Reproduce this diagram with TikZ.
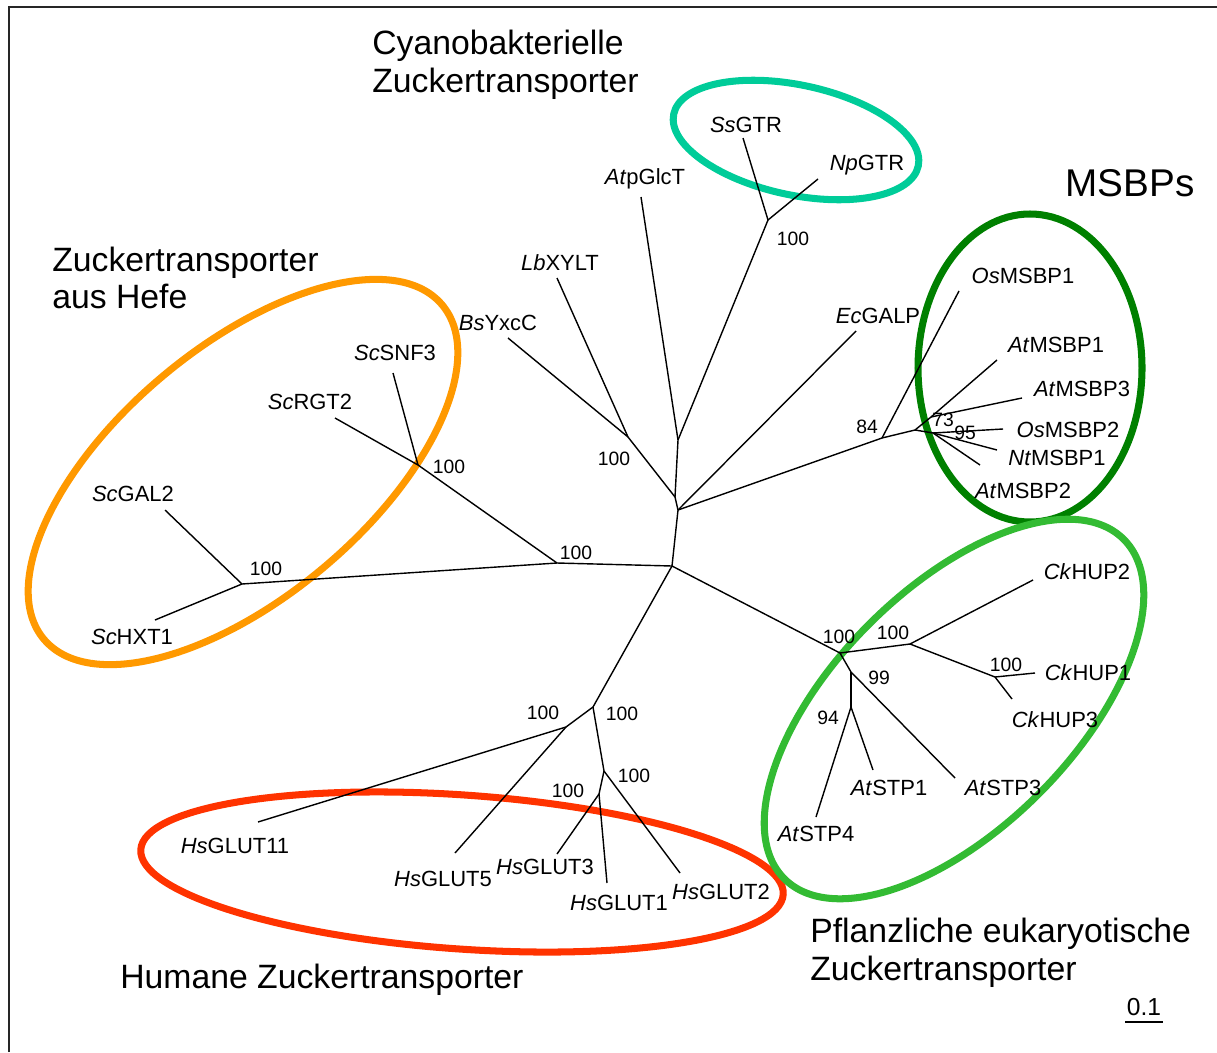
\documentclass[tikz,border=0pt]{standalone}
\usepackage{fontspec}
\setmainfont{Liberation Sans}
\usepackage{tikz}
\definecolor{cyanoring}{RGB}{0,204,153}
\definecolor{msbpring}{RGB}{0,128,0}
\definecolor{yeastring}{RGB}{255,153,0}
\definecolor{humanring}{RGB}{255,51,0}
\definecolor{plantring}{RGB}{51,187,51}

\begin{document}
\begin{tikzpicture}[x=0.2mm,y=-0.2mm,
  branch/.style={line width=0.8pt},
  leaf/.style={inner sep=0pt,font=\fontsize{12.5}{15}\selectfont},
  boot/.style={inner sep=0pt,font=\fontsize{11}{13}\selectfont},
  grp/.style={inner sep=0pt,anchor=west,align=left,font=\fontsize{19.2}{21.5}\selectfont},
  ring/.style={line width=4pt}]
\useasboundingbox (0,0) rectangle (1217,1052);
\draw[line width=1.1pt,black!85] (9,1052) -- (9,7) -- (1217,7);

% group rings
\draw[ring,cyanoring,shift={(796,140)},rotate=-12] (0,0) ellipse (125 and 55);
\draw[ring,msbpring] (1030,368) ellipse (112 and 154);
\draw[ring,yeastring,shift={(243,472)},rotate=40] (0,0) ellipse (260 and 125);
\draw[ring,humanring,shift={(462,872)},rotate=-4] (0,0) ellipse (322 and 77);
\draw[ring,plantring,shift={(954,709)},rotate=45] (0,0) ellipse (240 and 120);

% inner branch points
\coordinate (r0) at (672,566);
\coordinate (r1) at (678,510);
\coordinate (r2) at (675,497);
\coordinate (r3) at (628,437);
\coordinate (r4) at (678,440);
\coordinate (cy) at (768,220);
\coordinate (m84) at (882,438);
\coordinate (m0) at (915,430);
\coordinate (m73) at (931,417);
\coordinate (m95) at (933,433);
\coordinate (ye) at (557,563);
\coordinate (y1) at (418,465);
\coordinate (y2) at (242,584);
\coordinate (h0) at (593,707);
\coordinate (h1) at (566,727);
\coordinate (h2) at (604,771);
\coordinate (h3) at (599,794);
\coordinate (p0) at (840,653);
\coordinate (p1) at (910,644);
\coordinate (p2) at (995,677);
\coordinate (p3) at (851,672);
\coordinate (p4) at (851,707);

% leaf tips
\coordinate (ssgtr-t) at (743,138);
\coordinate (npgtr-t) at (818,179);
\coordinate (atpglct-t) at (641,197);
\coordinate (lbxylt-t) at (557,278);
\coordinate (bsyxcc-t) at (508,338);
\coordinate (ecgalp-t) at (856,331);
\coordinate (osmsbp1-t) at (959,291);
\coordinate (atmsbp1-t) at (997,360);
\coordinate (atmsbp3-t) at (1022,398);
\coordinate (osmsbp2-t) at (1003,429);
\coordinate (ntmsbp1-t) at (997,450);
\coordinate (atmsbp2-t) at (980,465);
\coordinate (scsnf3-t) at (393,373);
\coordinate (scrgt2-t) at (335,418);
\coordinate (scgal2-t) at (165,510);
\coordinate (schxt1-t) at (155,620);
\coordinate (hsglut11-t) at (258,822);
\coordinate (hsglut5-t) at (455,853);
\coordinate (hsglut3-t) at (557,854);
\coordinate (hsglut1-t) at (607,883);
\coordinate (hsglut2-t) at (680,873);
\coordinate (ckhup2-t) at (1033,580);
\coordinate (ckhup1-t) at (1035,673);
\coordinate (ckhup3-t) at (1012,699);
\coordinate (atstp3-t) at (955,778);
\coordinate (atstp1-t) at (873,770);
\coordinate (atstp4-t) at (816,817);

% tree
\draw[branch] (r0) -- (r1);
\draw[branch] (r1) -- (r2);
\draw[branch] (r2) -- (r3);
\draw[branch] (r2) -- (r4);
\draw[branch] (r3) -- (lbxylt-t);
\draw[branch] (r3) -- (bsyxcc-t);
\draw[branch] (r4) -- (atpglct-t);
\draw[branch] (r4) -- (cy);
\draw[branch] (cy) -- (ssgtr-t);
\draw[branch] (cy) -- (npgtr-t);
\draw[branch] (r1) -- (ecgalp-t);
\draw[branch] (r1) -- (m84);
\draw[branch] (m84) -- (osmsbp1-t);
\draw[branch] (m84) -- (m0);
\draw[branch] (m0) -- (m73);
\draw[branch] (m0) -- (m95);
\draw[branch] (m73) -- (atmsbp1-t);
\draw[branch] (m73) -- (atmsbp3-t);
\draw[branch] (m95) -- (osmsbp2-t);
\draw[branch] (m95) -- (ntmsbp1-t);
\draw[branch] (m95) -- (atmsbp2-t);
\draw[branch] (r0) -- (ye);
\draw[branch] (ye) -- (y1);
\draw[branch] (y1) -- (scsnf3-t);
\draw[branch] (y1) -- (scrgt2-t);
\draw[branch] (ye) -- (y2);
\draw[branch] (y2) -- (scgal2-t);
\draw[branch] (y2) -- (schxt1-t);
\draw[branch] (r0) -- (h0);
\draw[branch] (h0) -- (h1);
\draw[branch] (h1) -- (hsglut11-t);
\draw[branch] (h1) -- (hsglut5-t);
\draw[branch] (h0) -- (h2);
\draw[branch] (h2) -- (h3);
\draw[branch] (h2) -- (hsglut2-t);
\draw[branch] (h3) -- (hsglut3-t);
\draw[branch] (h3) -- (hsglut1-t);
\draw[branch] (r0) -- (p0);
\draw[branch] (p0) -- (p1);
\draw[branch] (p1) -- (ckhup2-t);
\draw[branch] (p1) -- (p2);
\draw[branch] (p2) -- (ckhup1-t);
\draw[branch] (p2) -- (ckhup3-t);
\draw[branch] (p0) -- (p3);
\draw[branch] (p3) -- (atstp3-t);
\draw[branch] (p3) -- (p4);
\draw[branch] (p4) -- (atstp1-t);
\draw[branch] (p4) -- (atstp4-t);

% leaves
\node[leaf] (ssgtr) at (746,125) {\textit{Ss}GTR};
\node[leaf] (npgtr) at (867,165) {\textit{Np}GTR};
\node[leaf] (atpglct) at (645,179) {\textit{At}pGlcT};
\node[leaf] (lbxylt) at (560,263) {\textit{Lb}XYLT};
\node[leaf] (bsyxcc) at (498,323) {\textit{Bs}YxcC};
\node[leaf] (ecgalp) at (878,316) {\textit{Ec}GALP};
\node[leaf] (osmsbp1) at (1023,276) {\textit{Os}MSBP1};
\node[leaf] (atmsbp1) at (1056,345) {\textit{At}MSBP1};
\node[leaf] (atmsbp3) at (1082,389) {\textit{At}MSBP3};
\node[leaf] (osmsbp2) at (1068,430) {\textit{Os}MSBP2};
\node[leaf] (ntmsbp1) at (1057,458) {\textit{Nt}MSBP1};
\node[leaf] (atmsbp2) at (1023,491) {\textit{At}MSBP2};
\node[leaf] (scsnf3) at (395,353) {\textit{Sc}SNF3};
\node[leaf] (scrgt2) at (310,402) {\textit{Sc}RGT2};
\node[leaf] (scgal2) at (133,494) {\textit{Sc}GAL2};
\node[leaf] (schxt1) at (132,637) {\textit{Sc}HXT1};
\node[leaf] (hsglut11) at (235,846) {\textit{Hs}GLUT11};
\node[leaf] (hsglut5) at (443,879) {\textit{Hs}GLUT5};
\node[leaf] (hsglut3) at (545,867) {\textit{Hs}GLUT3};
\node[leaf] (hsglut1) at (619,903) {\textit{Hs}GLUT1};
\node[leaf] (hsglut2) at (721,892) {\textit{Hs}GLUT2};
\node[leaf] (ckhup2) at (1087,572) {\textit{Ck}HUP2};
\node[leaf] (ckhup1) at (1088,673) {\textit{Ck}HUP1};
\node[leaf] (ckhup3) at (1055,720) {\textit{Ck}HUP3};
\node[leaf] (atstp1) at (889,788) {\textit{At}STP1};
\node[leaf] (atstp3) at (1003,788) {\textit{At}STP3};
\node[leaf] (atstp4) at (816,834) {\textit{At}STP4};

% bootstrap values
\node[boot] (b-cy) at (793,239) {100};
\node[boot] (b-r3) at (614,459) {100};
\node[boot] (b-m84) at (867,427) {84};
\node[boot] (b-m73) at (943,420) {73};
\node[boot] (b-m95) at (965,433) {95};
\node[boot] (b-y1) at (449,467) {100};
\node[boot] (b-ye) at (576,553) {100};
\node[boot] (b-y2) at (266,569) {100};
\node[boot] (b-h1) at (543,713) {100};
\node[boot] (b-h0) at (622,714) {100};
\node[boot] (b-h2) at (634,776) {100};
\node[boot] (b-h3) at (568,791) {100};
\node[boot] (b-p0) at (839,637) {100};
\node[boot] (b-p1) at (893,633) {100};
\node[boot] (b-p2) at (1006,665) {100};
\node[boot] (b-p3) at (879,678) {99};
\node[boot] (b-p4) at (828,718) {94};

% group names
\node[grp] (g-cyano) at (372,65) {Cyanobakterielle\\Zuckertransporter};
\node[grp] (g-yeast) at (52,278) {Zuckertransporter\\aus Hefe};
\node[grp] (g-human) at (120,980) {Humane Zuckertransporter};
\node[grp] (g-plant) at (810,953) {Pflanzliche eukaryotische\\Zuckertransporter};
\node[inner sep=0pt,font=\fontsize{22}{26}\selectfont] (g-msbp) at (1130,183) {MSBPs};

% scale
\node[inner sep=0pt,font=\fontsize{14}{16}\selectfont] (scale) at (1144,1007) {0.1};
\coordinate (sb-l) at (1125,1022);
\coordinate (sb-r) at (1163,1022);
\draw[branch] (sb-l) -- (sb-r);
\end{tikzpicture}
\end{document}
